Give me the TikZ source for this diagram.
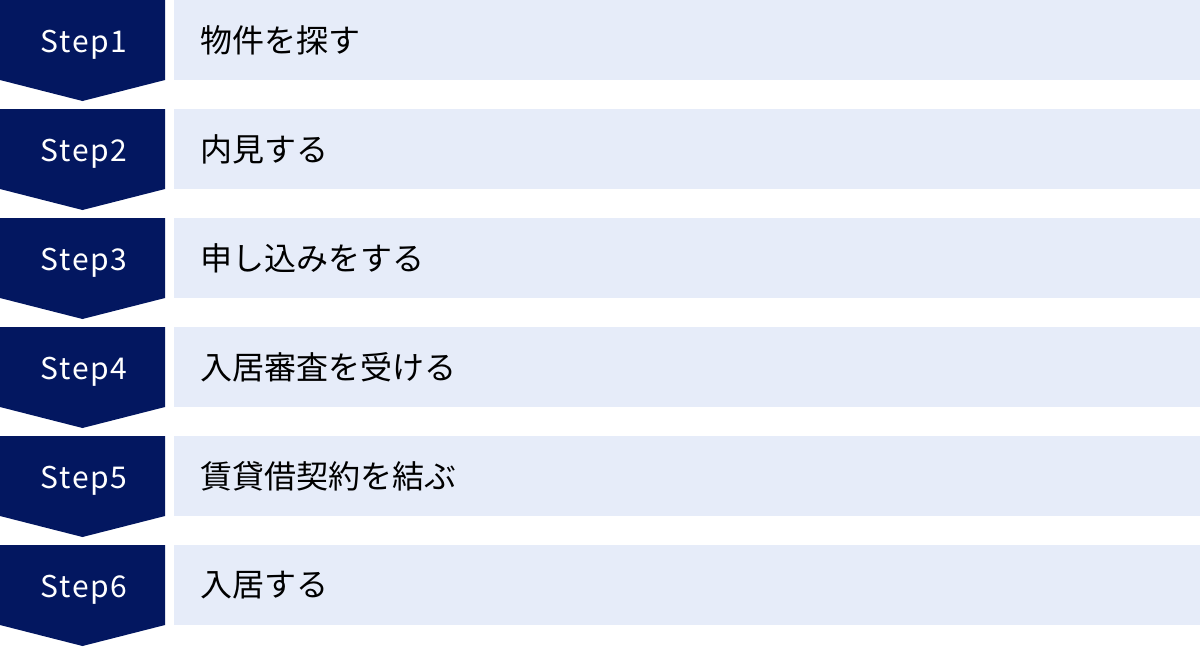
\documentclass[tikz,border=0pt]{standalone}
\usepackage{fontspec}
\setmainfont{Noto Sans CJK JP}
\newfontfamily\stepfont[LetterSpace=6]{Noto Sans CJK JP}
\definecolor{navy}{RGB}{3,23,96}
\definecolor{paleblue}{RGB}{230,236,249}
\tikzset{
  chevron/.style   = {fill=navy},
  steplabel/.style = {text=white, anchor=base, inner sep=0pt,
                      font=\stepfont\fontsize{22.5pt}{26pt}\selectfont},
  taskbox/.style   = {fill=paleblue, anchor=north west, minimum height=60pt,
                      inner xsep=19.5pt, inner ysep=0pt, text width=730.5pt, align=left,
                      font=\fontsize{24pt}{28pt}\selectfont}
}
\begin{document}
\begin{tikzpicture}[x=0.75pt,y=-0.75pt]
\useasboundingbox (0,0) rectangle (1200,647);

% one row for each step
\foreach \i/\task in {1/物件を探す, 2/内見する, 3/申し込みをする,
                      4/入居審査を受ける, 5/賃貸借契約を結ぶ, 6/入居する}
{
  \path[chevron] (0,{(\i-1)*109}) -- ++(165,0) -- ++(0,80) -- ++(-82.5,21)
                 -- ++(-82.5,-21) -- cycle;
  \node[steplabel] (s\i) at (84,{(\i-1)*109+52.5}) {Step\i};
  \node[taskbox] (t\i) at (174,{(\i-1)*109}) {\task};
}

\end{tikzpicture}
\end{document}
